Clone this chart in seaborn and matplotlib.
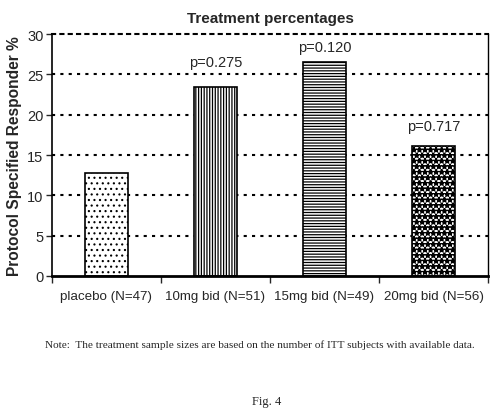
import matplotlib
matplotlib.use("Agg")
import matplotlib.pyplot as plt
import seaborn as sns

# -----------------------------
# Data
# -----------------------------
groups = ["placebo (N=47)", "10mg bid (N=51)", "15mg bid (N=49)", "20mg bid (N=56)"]
responder_pct = [12.8, 23.5, 26.5, 16.1]
p_labels = ["", "p=0.275", "p=0.120", "p=0.717"]
p_label_y = [0, 26.5, 28.4, 18.6]
hatches = ["...", "||||||", "------", "***"]

sns.set_theme(style="white")
plt.rcParams["font.family"] = ["Liberation Sans", "DejaVu Sans"]

fig = plt.figure(figsize=(4.94, 4.14), dpi=100)
ax = fig.add_axes([0.105, 0.331, 0.883, 0.584])

sns.barplot(x=groups, y=responder_pct, color="white", edgecolor="black",
            linewidth=1.2, width=0.4, ax=ax)

for i, bar in enumerate(ax.patches):
    bar.set_hatch(hatches[i])
    bar.set_facecolor("white")
    if hasattr(bar, "set_hatch_linewidth"):
        bar.set_hatch_linewidth([0.8, 0.9, 0.9, 1.2][i])

# dotted gridlines
ax.set_ylim(0, 30)
ax.set_xlim(-0.5, 3.5)
ax.set_yticks([0, 5, 10, 15, 20, 25, 30])
for v in [5, 10, 15, 20, 25]:
    ax.axhline(v, color="black", linestyle=(0, (1.5, 2.5)), linewidth=1.5, zorder=0)

# category labels between boundary ticks
ax.set_xticks([-0.5, 0.5, 1.5, 2.5, 3.5])
ax.set_xticklabels([])
ax.set_xticks(range(len(groups)), minor=True)
ax.set_xticklabels(groups, minor=True, fontsize=9.6)
ax.tick_params(axis="x", which="major", direction="out", length=5, width=1, bottom=True)
ax.tick_params(axis="x", which="minor", length=0, pad=10)
ax.tick_params(axis="y", direction="out", length=4, width=1, left=True, labelsize=10.5, pad=2)

for spine in ax.spines.values():
    spine.set_visible(True)
    spine.set_color("black")
ax.spines["bottom"].set_linewidth(2)
ax.spines["left"].set_linewidth(1.2)
ax.spines["right"].set_linewidth(1)
ax.spines["top"].set_linewidth(1.5)
ax.spines["top"].set_linestyle((0, (1.5, 2.5)))

for i, lab in enumerate(p_labels):
    if lab:
        ax.text(i, p_label_y[i], lab, ha="center", va="center", fontsize=10.5)

ax.set_title("Treatment percentages", fontsize=11, fontweight="bold", pad=9)
ax.set_ylabel("Protocol Specified Responder %", fontsize=11.2, fontweight="bold", labelpad=4)
ax.set_xlabel("")

fig.text(0.526, 1 - 345 / 414, "Note:  The treatment sample sizes are based on the number of ITT subjects with available data.",
         ha="center", va="center", fontsize=8.1, family="Liberation Serif")
fig.text(0.54, 1 - 402 / 414, "Fig. 4", ha="center", va="center", fontsize=9, family="Liberation Serif")

fig.savefig("out.png", dpi=100)
